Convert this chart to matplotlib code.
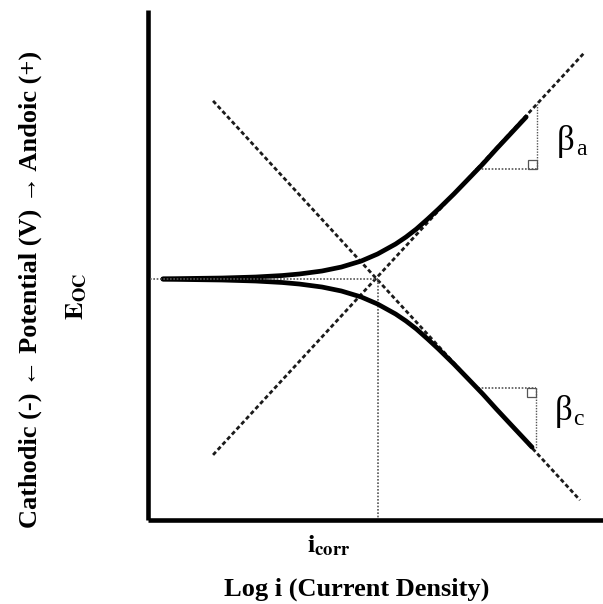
import matplotlib.pyplot as plt
from matplotlib.patches import Rectangle

plt.rcParams['font.family'] = ['Liberation Serif', 'DejaVu Serif']
plt.rcParams['mathtext.fontset'] = 'stix'

# axes: log i (arbitrary units) and potential relative to E_OC
x_lim = (0.0, 10.07)
y_lim = (-5.33, 5.95)

i_corr = 5.09
e_oc = 0.0

# Tafel extrapolation lines
anodic_tafel_x = [1.44, 9.67]
anodic_tafel_y = [-3.89, 5.02]
cathodic_tafel_x = [1.44, 9.56]
cathodic_tafel_y = [3.94, -4.89]

# polarisation curve
anodic_x = [0.33, 1.64, 2.38, 2.97, 3.35, 3.85, 4.28, 4.72, 5.08, 5.48, 5.71, 5.94,
            6.19, 6.43, 6.77, 7.09, 7.41, 7.71, 8.02, 8.37]
anodic_y = [0.004, 0.022, 0.044, 0.077, 0.111, 0.177, 0.265, 0.398, 0.553, 0.774, 0.929, 1.106,
            1.327, 1.549, 1.881, 2.212, 2.544, 2.876, 3.208, 3.584]
cathodic_x = [0.33, 1.64, 2.38, 2.97, 3.35, 3.85, 4.28, 4.72, 5.08, 5.48, 5.71, 5.94,
              6.19, 6.43, 6.77, 7.09, 7.41, 7.71, 8.02, 8.50]
cathodic_y = [-0.004, -0.022, -0.044, -0.077, -0.111, -0.177, -0.265, -0.398, -0.553, -0.774, -0.929, -1.106,
              -1.327, -1.549, -1.881, -2.212, -2.544, -2.876, -3.208, -3.72]

# slope triangles (x0, x1, y_base, y_top)
beta_a_tri = (7.23, 8.61, 2.43, 3.92)
beta_c_tri = (7.23, 8.58, -2.41, -3.74)

W, H = 603, 604
fig = plt.figure(figsize=(W / 100, H / 100), dpi=100)
ax = fig.add_axes([148 / W, (H - 520) / H, 455 / W, 510 / H])
ax.set_xlim(*x_lim)
ax.set_ylim(*y_lim)
ax.set_xticks([])
ax.set_yticks([])
for s in ['top', 'right']:
    ax.spines[s].set_visible(False)
for s in ['left', 'bottom']:
    ax.spines[s].set_linewidth(3.3)
    ax.spines[s].set_capstyle('butt')

dash = (0, (1.5, 1.0))
dot = (0, (1, 1))
ax.plot(anodic_tafel_x, anodic_tafel_y, color='#1a1a1a', lw=2.0, ls=dash)
ax.plot(cathodic_tafel_x, cathodic_tafel_y, color='#1a1a1a', lw=2.0, ls=dash)

ax.plot(anodic_x, anodic_y, color='black', lw=3.4, solid_capstyle='round',
        solid_joinstyle='round', zorder=3)
ax.plot(cathodic_x, cathodic_y, color='black', lw=3.4, solid_capstyle='round',
        solid_joinstyle='round', zorder=3)

ax.plot([0.04, i_corr], [e_oc, e_oc], color='#555555', lw=1.2, ls=dot, zorder=4)
ax.plot([i_corr, i_corr], [e_oc, y_lim[0]], color='#555555', lw=1.2, ls=dot, clip_on=False)

for x0, x1, yb, yt in [beta_a_tri, beta_c_tri]:
    ax.plot([x0, x1], [yb, yb], color='#555555', lw=1.2, ls=dot)
    ax.plot([x1, x1], [yb, yt], color='#555555', lw=1.0, ls=dot)
    sq = 0.2
    sy = yb if yt > yb else yb - sq
    ax.add_patch(Rectangle((x1 - sq, sy), sq, sq, fill=False, ec='#555555', lw=0.9))


def fx(px):
    return px / W


def fy(py):
    return 1 - py / H


# Tafel slope labels
fig.text(fx(557), fy(150), '\u03b2', fontsize=25, ha='left', va='baseline')
fig.text(fx(576), fy(155), 'a', fontsize=17, ha='left', va='baseline')
fig.text(fx(555), fy(420), '\u03b2', fontsize=25, ha='left', va='baseline')
fig.text(fx(573), fy(425), 'c', fontsize=17, ha='left', va='baseline')

fig.text(fx(329), fy(552), r'$\mathbf{i}_{\mathbf{corr}}$', fontsize=19,
         ha='center', va='baseline')
fig.text(fx(357), fy(596), 'Log i (Current Density)', fontsize=19,
         fontweight='bold', ha='center', va='baseline')
fig.text(fx(37), fy(289), 'Cathodic (-) \u2190 Potential (V) \u2192 Andoic (+)',
         fontsize=19, fontweight='bold', rotation=90, rotation_mode='anchor',
         ha='center', va='baseline')
fig.text(fx(83), fy(296), r'$\mathbf{E}_{\mathbf{OC}}$', fontsize=19,
         rotation=90, rotation_mode='anchor', ha='center', va='baseline')

fig.savefig('out.png', dpi=100)
